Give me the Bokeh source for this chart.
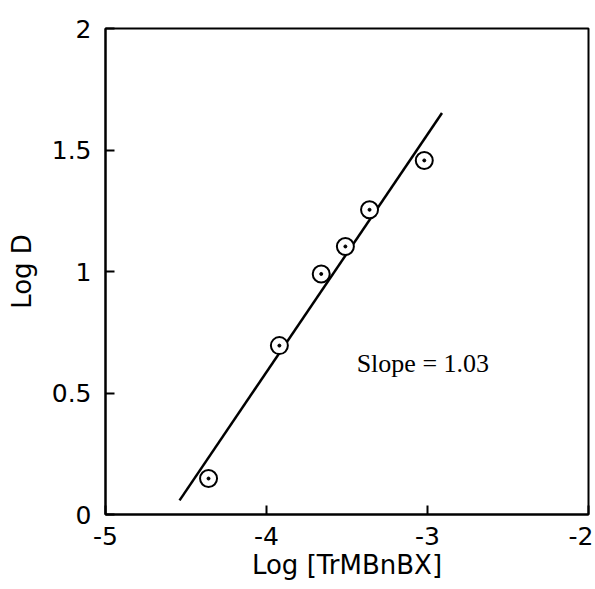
from bokeh.plotting import figure
from bokeh.models import FixedTicker, CustomJSTickFormatter, Label
from bokeh.embed import file_html
from bokeh.resources import INLINE

# data
log_conc = [-4.36, -3.92, -3.66, -3.51, -3.36, -3.02]
log_d = [0.148, 0.695, 0.990, 1.103, 1.254, 1.457]
fit_x = [-4.54, -2.91]
fit_y = [0.058, 1.652]
x_ticks = [-5, -4, -3, -2]
y_ticks = [0, 0.5, 1, 1.5, 2]
slope_text = "Slope = 1.03"
x_title = "Log [TrMBnBX]"
y_title = "Log D"

p = figure(width=593, height=589, output_backend="svg", toolbar_location=None,
           x_range=(-5, -2), y_range=(0, 2),
           min_border_left=105, min_border_right=5, min_border_top=28, min_border_bottom=75)
p.grid.visible = False
p.background_fill_color = "white"
p.border_fill_color = "white"
p.outline_line_color = "black"
p.outline_line_width = 2
p.outline_line_alpha = 1

fmt = CustomJSTickFormatter(code="return tick.toString();")
for ax, ticks in ((p.xaxis[0], x_ticks), (p.yaxis[0], y_ticks)):
    ax.ticker = FixedTicker(ticks=ticks)
    ax.formatter = fmt
    ax.minor_tick_line_color = None
    ax.major_tick_in = 9
    ax.major_tick_out = 0
    ax.major_tick_line_width = 2
    ax.major_tick_line_color = "black"
    ax.axis_line_width = 2
    ax.axis_line_color = "black"
    ax.major_label_text_font = "DejaVu Sans"
    ax.major_label_text_font_size = "25px"
    ax.major_label_text_color = "black"
    ax.axis_label_text_font = "DejaVu Sans"
    ax.axis_label_text_font_size = "26px"
    ax.axis_label_text_font_style = "normal"
    ax.axis_label_text_color = "black"

p.xaxis.axis_label = x_title
p.yaxis.axis_label = y_title
p.xaxis.major_label_standoff = 12
p.xaxis.axis_label_standoff = 2
p.yaxis.major_label_standoff = 14
p.yaxis.axis_label_standoff = 12

p.line(fit_x, fit_y, line_color="black", line_width=2.5)
p.scatter(log_conc, log_d, size=17, marker="circle", fill_color="white",
          line_color="black", line_width=2)
p.scatter(log_conc, log_d, size=3, marker="circle", fill_color="black",
          line_color="black")

p.add_layout(Label(x=-3.44, y=0.62, text=slope_text, text_font="Liberation Serif",
                   text_font_size="26px", text_color="black",
                   text_baseline="alphabetic", text_align="left"))

open("out.html", "w").write(file_html(p, INLINE))
